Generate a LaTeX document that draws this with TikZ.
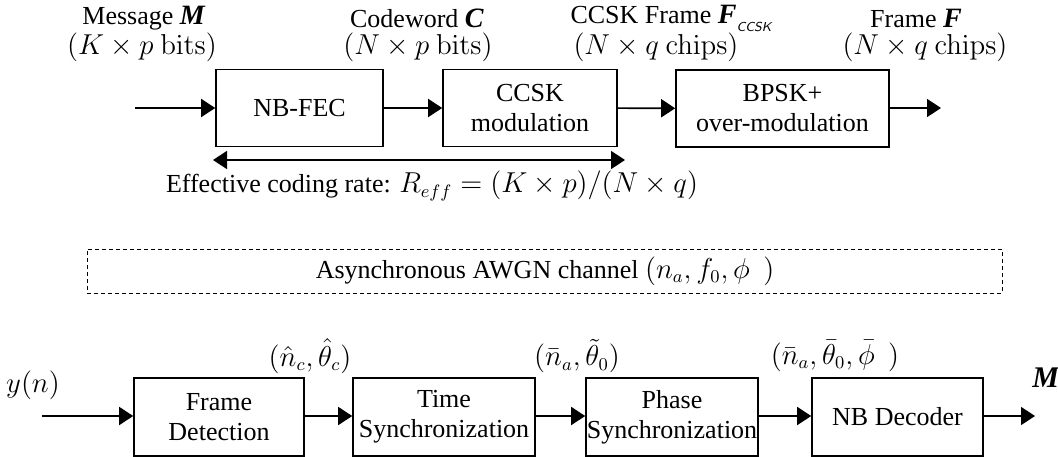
\documentclass[tikz,border=0pt]{standalone}
\usepackage{amsmath,amssymb}
\usepackage[no-math]{fontspec}
\setmainfont{Liberation Serif}
\usetikzlibrary{arrows.meta}
\newcommand{\mf}{\fontsize{13.4}{16}\selectfont}
\newcommand{\bi}[1]{\textbf{\textit{#1}}}
\begin{document}
\begin{tikzpicture}[x=0.5pt,y=-0.5pt,
  font=\fontsize{13}{15}\selectfont,
  blk/.style={draw, line width=0.8pt, align=center, inner sep=0pt},
  lbl/.style={inner sep=0pt, align=center},
  arr/.style={line width=0.8pt, -{Triangle[length=7pt,width=9pt]}},
  darr/.style={line width=0.8pt, {Triangle[length=7pt,width=9pt]}-{Triangle[length=7pt,width=9pt]}},
  chan/.style={draw, line width=0.4pt, dash pattern=on 2pt off 1.5pt, minimum width=457.5pt, minimum height=22pt, inner sep=0pt}
]
\useasboundingbox (0,0) rectangle (1058,456);
% ---- transmitter ----
\node[blk, minimum width=83.5pt, minimum height=38.5pt] (fec) at (299.5,108) {NB-FEC};
\node[blk, minimum width=87pt, minimum height=38.5pt] (ccsk) at (530,108) {CCSK\\modulation};
\node[blk, minimum width=106.5pt, minimum height=38.5pt] (bpsk) at (782.5,108.5) {BPSK+\\over-modulation};
\coordinate (tin) at (135,108);
\coordinate (tout) at (941,108);
\draw[arr] (tin) -- (fec);
\draw[arr] (fec) -- (ccsk);
\draw[arr] (ccsk) -- (bpsk);
\draw[arr] (bpsk.east |- tout) -- (tout);
\coordinate (rl) at (213,160);
\coordinate (rr) at (625,160);
\draw[darr] (rl) -- (rr);
\node[lbl] (rate) at (432,186) {Effective coding rate: {\mf$R_{eff}=(K\times p)/(N\times q)$}};
\node[lbl] (msg) at (144,18) {Message {\fontsize{14}{15}\selectfont\bi{M}}};
\node[lbl] (msgb) at (142,47) {\mf$(K\times p\ \mathrm{bits})$};
\node[lbl] (cw) at (417,18) {Codeword {\fontsize{14}{15}\selectfont\bi{C}}};
\node[lbl] (cwb) at (418,47) {\mf$(N\times p\ \mathrm{bits})$};
\node[lbl] (cf) at (671,18) {CCSK Frame {\fontsize{14}{15}\selectfont\bi{F}}\raisebox{-4pt}{\fontsize{6.5}{7}\selectfont\sffamily\itshape CCSK}};
\node[lbl] (cfb) at (656,47) {\mf$(N\times q\ \mathrm{chips})$};
\node[lbl] (fr) at (916,18) {Frame {\fontsize{14}{15}\selectfont\bi{F}}};
\node[lbl] (frb) at (925,47) {\mf$(N\times q\ \mathrm{chips})$};
% ---- channel ----
\node[chan] (ch) at (544.5,271) {};
\node[lbl] (cht) at (545,271) {Asynchronous AWGN channel {\mf$(n_a,f_0,\phi\ \ )$}};
% ---- receiver ----
\node[blk, minimum width=85pt, minimum height=39pt] (fd) at (219,417) {Frame\\Detection};
\node[blk, minimum width=91pt, minimum height=39pt] (ts) at (444,417) {Time\\Synchronization};
\node[blk, minimum width=86pt, minimum height=39pt] (ps) at (672,417) {Phase\\Synchronization};
\node[blk, minimum width=85.5pt, minimum height=39pt] (nb) at (897.5,417) {NB Decoder};
\coordinate (rin) at (42,416);
\coordinate (rout) at (1035,416);
\draw[arr] (rin) -- (fd.west |- rin);
\draw[arr] (fd.east |- rin) -- (ts.west |- rin);
\draw[arr] (ts.east |- rin) -- (ps.west |- rin);
\draw[arr] (ps.east |- rin) -- (nb.west |- rin);
\draw[arr] (nb.east |- rin) -- (rout);
\node[lbl] (yn) at (33,385) {\mf$y(n)$};
\node[lbl] (e1) at (310,356) {\mf$(\hat{n}_c,\hat{\theta}_c)$};
\node[lbl] (e2) at (577,356) {\mf$(\bar{n}_a,\tilde{\theta}_0)$};
\node[lbl] (e3) at (835,356) {\mf$(\bar{n}_a,\bar{\theta}_0,\bar{\phi}\ \ )$};
\node[lbl] (mo) at (1046,378) {\fontsize{15}{16}\selectfont\bi{M}};
\end{tikzpicture}
\end{document}
